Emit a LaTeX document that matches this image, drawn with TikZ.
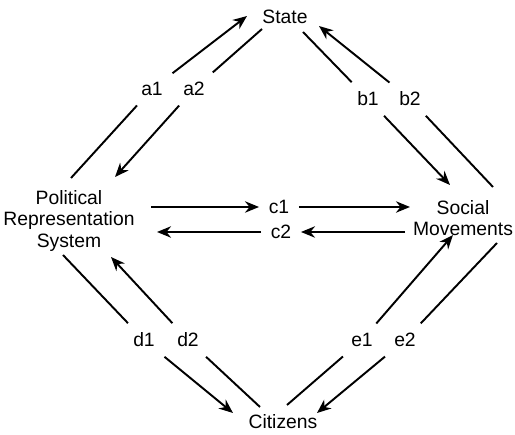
\documentclass[tikz,border=0pt]{standalone}
\usepackage{fontspec}
\setmainfont{Liberation Sans}
\usetikzlibrary{arrows.meta}

\begin{document}
\begin{tikzpicture}[x=0.02cm,y=-0.02cm,line width=1.1pt,>={Stealth[length=8pt,width=6.5pt]}]
        \tikzstyle{actor}=[align=center,inner sep=2pt,font=\fontsize{11}{12.2}\selectfont]
        \tikzstyle{flow}=[actor,inner sep=5pt]
        \useasboundingbox (0,0) rectangle (515,435);
        \node[actor] (state) at (285,17) {State};
        \node[actor] (prs) at (69,221) {Political\\Representation\\System};
        \node[actor] (sm) at (463,218) {Social\\Movements};
        \node[actor] (cit) at (283,422) {Citizens};
        \foreach \name / \x / \y in {a1/152/89,a2/194/89,b1/368/99,b2/410/99,c1/279/207,c2/281/232,
                d1/144/340,d2/188/340,e1/362/340,e2/405/340}
            \node[flow] (\name) at (\x,\y) {\name};
        % loose ends of the links
        \foreach \name / \x / \y in {a1-from/71/178,a1-to/247/16,a2-from/262/29,a2-to/115/177,
                b1-from/303/32,b1-to/450/185,b2-from/493/187,b2-to/319/26,
                c1-from/151/207,c1-to/410/207,c2-from/405/232,c2-to/157/232,
                d1-from/63/255,d1-to/233/413,d2-from/260/407,d2-to/111/257,
                e1-from/287/405,e1-to/453/235,e2-from/497/243,e2-to/317/413}
            \coordinate (\name) at (\x,\y);
        \foreach \link in {a1,a2,b1,b2,d1,d2,e1,e2}
            {\draw (\link-from) -- (\link); \draw[->] (\link) -- (\link-to);}
        \foreach \link in {c1,c2}
            {\draw[->] (\link-from) -- (\link); \draw[->] (\link) -- (\link-to);}
    \end{tikzpicture}
\end{document}
